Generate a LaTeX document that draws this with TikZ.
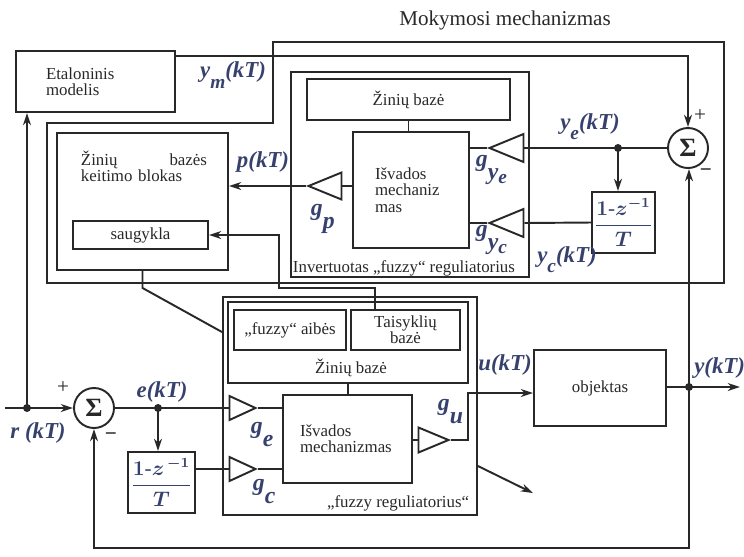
\documentclass[tikz,border=0pt]{standalone}
\usepackage{amsmath}
\usepackage{fontspec}
\setmainfont{Liberation Serif}
\usetikzlibrary{shapes.geometric,arrows.meta}
\newcommand{\px}{0.02cm}
\definecolor{labc}{RGB}{55,65,110}
\definecolor{linec}{RGB}{40,40,40}
% signal name with a dropped index, e.g. y_m(kT)
\newcommand{\kt}[2]{#1\raisebox{-.45em}{\fontsize{11}{11}\selectfont #2}(kT)}
% gain g with a dropped index
\newcommand{\gs}[1]{g\raisebox{-.55em}{#1}}

\begin{document}
\begin{tikzpicture}[x=\px, y=-\px, line width=1.1pt, color=linec,
    font=\fontsize{9.6}{9.3}\selectfont,
    box/.style={draw, rectangle, inner sep=0pt},
    gain/.style={draw, isosceles triangle, isosceles triangle stretches, inner sep=0pt},
    sum/.style={draw, circle, minimum size=40*\px, inner sep=0pt, font=\fontsize{15}{15}\selectfont\bfseries},
    dot/.style={circle, fill, inner sep=0pt, minimum size=8*\px},
    arr/.style={-{Stealth[length=7pt,width=4.5pt]}},
    lab/.style={text=labc, inner sep=0pt, font=\fontsize{13}{13}\selectfont\bfseries\itshape},
    glab/.style={text=labc, anchor=base west, inner sep=0pt, font=\fontsize{13.5}{13.5}\selectfont\bfseries\itshape},
    sign/.style={inner sep=0pt, font=\fontsize{12}{12}\selectfont},
    frac/.style={box, text=labc, font=\fontsize{12}{12}\selectfont\boldmath}]
    \useasboundingbox (0,0) rectangle (744,556);

    % learning mechanism
    \node[font=\fontsize{12}{12}\selectfont] (title) at (505,20) {Mokymosi mechanizmas};
    \draw (273,42) -- (724,42) -- (724,283) -- (47,283) -- (47,123) -- (273,123) -- cycle;

    \node[box, minimum width=159*\px, minimum height=61*\px, text width=99*\px, align=left] (etalon) at (95.5,81.5) {Etaloninis\\modelis};
    \node[sum] (sig1) at (688,148) {Σ};
    \node[sign] (plus1) at (700,116) {+};
    \node[sign, font=\fontsize{12}{12}\selectfont\bfseries] (minus1) at (706,173) {−};
    \draw[arr] ([yshift=-6*\px]etalon.north east) -| (sig1.north);
    \node[lab] (ym-lbl) at (233,75) {\kt{y}{m}};

    % inverted fuzzy controller
    \node[box, minimum width=238*\px, minimum height=205*\px] (inv) at (410,174.5) {};
    \node[anchor=west, inner sep=0pt] (inv-txt) at (292,268) {Invertuotas „fuzzy“ reguliatorius};
    \node[box, minimum width=203*\px, minimum height=41*\px] (zb1) at (408.5,99.5) {Žinių bazė};
    \node[box, minimum width=116*\px, minimum height=116*\px, text width=72*\px, align=left] (isv1) at (411,190) {Išvados\\mechaniz\\mas};
    \draw (zb1.south) -- (zb1.south |- isv1.north);

    \node[gain, shape border rotate=180, anchor=apex, minimum width=28*\px, minimum height=34*\px] (gye) at (487,148) {};
    \node[gain, shape border rotate=180, anchor=apex, minimum width=28*\px, minimum height=34*\px] (gyc) at (487,223) {};
    \node[gain, shape border rotate=180, anchor=apex, minimum width=27*\px, minimum height=33*\px] (gp) at (306,186) {};
    \node[glab] (gye-lbl) at (475,166) {\gs{y\raisebox{-.2em}{\fontsize{11}{11}\selectfont e}}};
    \node[glab] (gyc-lbl) at (475,236) {\gs{y\raisebox{-.2em}{\fontsize{11}{11}\selectfont c}}};
    \node[glab] (gp-lbl) at (310,215) {\gs{p}};

    \node[frac, minimum width=63*\px, minimum height=61*\px] (d1) at (623.5,222.5) {$\dfrac{1\text{-}z^{-1}}{T}$};
    \node[dot] (yedot) at (618,148) {};
    \draw (sig1.west) -- (gye.lower side);
    \draw[arr] (yedot.center) -- (yedot.center |- d1.north);
    \draw (gye.apex) -- (gye.apex -| isv1.east);
    \draw (d1.west) -- (gyc.lower side);
    \draw (gyc.apex) -- (gyc.apex -| isv1.east);
    \node[lab] (ye-lbl) at (590,127) {\kt{y}{e}};
    \node[lab] (yc-lbl) at (567,260) {\kt{y}{c}};

    % knowledge base update block
    \node[box, minimum width=171*\px, minimum height=137*\px] (keit) at (142.5,201.5) {};
    \node[anchor=north west, text width=126*\px, inner sep=0pt] (keit-txt) at (80,150) {Žinių \hfill bazės\\keitimo blokas};
    \node[box, minimum width=135*\px, minimum height=28*\px] (saug) at (140.5,235) {saugykla};
    \draw (isv1.west |- gp.lower side) -- (gp.lower side);
    \draw[arr] (gp.apex) -- (gp.apex -| keit.east);
    \node[lab] (p-lbl) at (263,162) {p(kT)};

    % fuzzy controller
    \node[box, minimum width=254*\px, minimum height=218*\px] (fz) at (350,406) {};
    \node[anchor=east, inner sep=0pt] (fz-txt) at (470,503) {„fuzzy reguliatorius“};
    \node[box, minimum width=240*\px, minimum height=81*\px] (zb2) at (348,342.5) {};
    \node (zb2-txt) at (351,368) {Žinių bazė};
    \node[box, minimum width=112*\px, minimum height=40*\px] (aib) at (290,330) {„fuzzy“ aibės};
    \node[box, minimum width=109*\px, minimum height=40*\px, align=center] (taisy) at (405.5,330) {Taisyklių\\bazė};
    \node[box, minimum width=129*\px, minimum height=88*\px, text width=95*\px, align=left] (isv2) at (347.5,439) {Išvados\\mechanizmas};
    \draw (zb2.south) -- (zb2.south |- isv2.north);

    \coordinate (upd) at (279,288);
    \draw[arr] ([xshift=-30.5*\px]taisy.north) |- (upd) -- (upd |- saug.east) -- (saug.east);
    \draw (keit.south) -- ++(0,17) -- ([yshift=-36*\px]fz.north west);

    \node[gain, anchor=apex, minimum width=24*\px, minimum height=26*\px] (ge) at (258,408) {};
    \node[gain, anchor=apex, minimum width=24*\px, minimum height=26*\px] (gc) at (258,469) {};
    \node[gain, anchor=apex, minimum width=25*\px, minimum height=30*\px] (gu) at (451,440) {};
    \node[glab] (ge-lbl) at (250,433) {\gs{e}};
    \node[glab] (gc-lbl) at (252,490) {\gs{c}};
    \node[glab] (gu-lbl) at (437,410) {\gs{u}};
    \draw (ge.apex) -- (ge.apex -| isv2.west);
    \draw (gc.apex) -- (gc.apex -| isv2.west);
    \draw (isv2.east |- gu.lower side) -- (gu.lower side);

    % plant and loops
    \node[box, minimum width=132*\px, minimum height=76*\px] (obj) at (600,388) {objektas};
    \draw[arr] (gu.apex) -- ++(17,0) |- ([yshift=-5*\px]obj.west);
    \node[lab] (u-lbl) at (505,365) {u(kT)};
    \draw[arr] ([yshift=-170*\px]fz.north east) -- ++(55,27);

    \node[dot] (ydot) at (689,387) {};
    \coordinate (yend) at (740,387);
    \draw[arr] (obj.east |- ydot) -- (yend);
    \node[lab, anchor=east] (y-lbl) at (746,368) {y(kT)};
    \draw[arr] (ydot.center) -- (ydot.center |- sig1.south);

    \node[sum] (sig2) at (94,408) {Σ};
    \node[sign] (plus2) at (63,388) {+};
    \node[sign, font=\fontsize{12}{12}\selectfont\bfseries] (minus2) at (111,437) {−};
    \draw[arr] (ydot.center) -- ++(0,161) -| (sig2.south);

    \coordinate (rin) at (5,408);
    \node[dot] (rdot) at (27,408) {};
    \draw[arr] (rin) -- (sig2.west);
    \draw[arr] (rdot.center) -- (rdot.center |- etalon.south);
    \node[lab] (r-lbl) at (38,433) {r (kT)};

    \node[frac, minimum width=67*\px, minimum height=61*\px] (d2) at (161.5,482.5) {$\dfrac{1\text{-}z^{\,-1}}{T}$};
    \node[dot] (edot) at (158,408) {};
    \draw (sig2.east) -- (ge.lower side);
    \draw[arr] (edot.center) -- (edot.center |- d2.north);
    \draw (d2.east |- gc.lower side) -- (gc.lower side);
    \node[lab] (e-lbl) at (162,392) {e(kT)};
\end{tikzpicture}
\end{document}
